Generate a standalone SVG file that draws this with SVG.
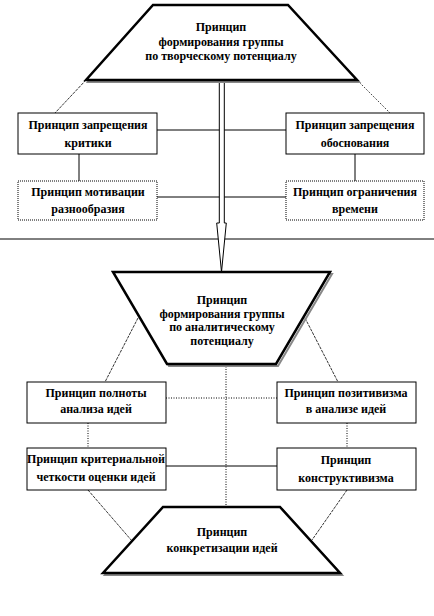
<svg xmlns="http://www.w3.org/2000/svg" width="434" height="616" viewBox="0 0 434 616">
<style>
text{font-family:"Liberation Serif","DejaVu Serif","Times New Roman",serif;font-weight:bold;font-size:12px;fill:#000;text-anchor:middle}
.trap{fill:#fff;stroke:#000;stroke-width:2.5;stroke-linejoin:miter}
.shadow{fill:none;stroke:#888;stroke-width:2}
.box{fill:#fff;stroke:#000;stroke-width:1}
.dbox{fill:#fff;stroke:#000;stroke-width:1;stroke-dasharray:1 1}
.ln{stroke:#000;stroke-width:1;fill:none}
.dot{stroke:#000;stroke-width:1;fill:none;stroke-dasharray:1 1.5}
.thin{stroke:#000;stroke-width:0.8;fill:none;stroke-dasharray:3 1}
</style>
<rect width="434" height="616" fill="#fff"/>
<g id="connectors">
<line class="thin" x1="86" y1="80" x2="55" y2="113"/>
<line class="dot" x1="357" y1="80" x2="390" y2="113"/>
<line class="ln" x1="157" y1="130" x2="286" y2="130"/>
<line class="ln" x1="157" y1="197" x2="286" y2="197"/>
<line class="ln" x1="79" y1="154" x2="79" y2="181"/>
<line class="ln" x1="355" y1="154" x2="355" y2="181"/>
<line class="ln" x1="0" y1="239" x2="434" y2="239"/>
<line class="thin" x1="138" y1="318" x2="105" y2="382"/>
<line class="thin" x1="305" y1="318" x2="338" y2="382"/>
<line class="dot" x1="166" y1="398" x2="277" y2="398"/>
<line class="ln" x1="166" y1="466" x2="277" y2="466"/>
<line class="dot" x1="88" y1="423" x2="88" y2="448"/>
<line class="dot" x1="347" y1="423" x2="347" y2="448"/>
<line class="dot" x1="226" y1="364" x2="226" y2="507"/>
<line class="thin" x1="88" y1="490" x2="132" y2="541"/>
<line class="thin" x1="347" y1="490" x2="312" y2="540"/>
<path d="M219.3,80 V223 H216.7 L221.5,272 L226.3,223 H224.3 V80" fill="#fff" stroke="#000" stroke-width="1"/>
</g>
<g id="n1">
<polygon class="shadow" points="154,7 289,7 359,82 88,82"/>
<polygon class="trap" points="153,5 288,5 357,80 86,80"/>
<text x="221" y="31">Принцип</text>
<text x="221" y="46">формирования группы</text>
<text x="221" y="60">по творческому потенциалу</text>
</g>
<g id="n2">
<rect class="box" x="18" y="113" width="139" height="41"/>
<text x="88" y="129">Принцип запрещения</text>
<text x="88" y="147">критики</text>
</g>
<g id="n3">
<rect class="box" x="286" y="113" width="138" height="41"/>
<text x="355" y="129">Принцип запрещения</text>
<text x="355" y="147">обоснования</text>
</g>
<g id="n4">
<rect class="dbox" x="18" y="181" width="139" height="39"/>
<text x="88" y="196">Принцип мотивации</text>
<text x="88" y="213">разнообразия</text>
</g>
<g id="n5">
<rect class="dbox" x="286" y="181" width="138" height="39"/>
<text x="355" y="196">Принцип ограничения</text>
<text x="355" y="213">времени</text>
</g>
<g id="n6">
<polygon class="shadow" points="115,274 332,274 278,366 169,366"/>
<polygon class="trap" points="113,272 330,272 276,364 167,364"/>
<text x="222" y="304">Принцип</text>
<text x="222" y="318">формирования группы</text>
<text x="222" y="331">по аналитическому</text>
<text x="222" y="345">потенциалу</text>
</g>
<g id="n7">
<rect class="box" x="27" y="382" width="139" height="41"/>
<text x="96" y="397">Принцип полноты</text>
<text x="96" y="413">анализа идей</text>
</g>
<g id="n8">
<rect class="box" x="277" y="382" width="139" height="41"/>
<text x="346" y="397">Принцип позитивизма</text>
<text x="346" y="413">в анализе идей</text>
</g>
<g id="n9">
<rect class="box" x="27" y="448" width="139" height="42"/>
<text x="96" y="463">Принцип критериальной</text>
<text x="96" y="481">четкости оценки идей</text>
</g>
<g id="n10">
<rect class="box" x="277" y="448" width="139" height="42"/>
<text x="346" y="464">Принцип</text>
<text x="346" y="482">конструктивизма</text>
</g>
<g id="n11">
<polygon class="shadow" points="165,509 282,509 342,575 105,575"/>
<polygon class="trap" points="163,507 280,507 340,573 103,573"/>
<text x="222" y="536">Принцип</text>
<text x="222" y="552">конкретизации идей</text>
</g>
</svg>
